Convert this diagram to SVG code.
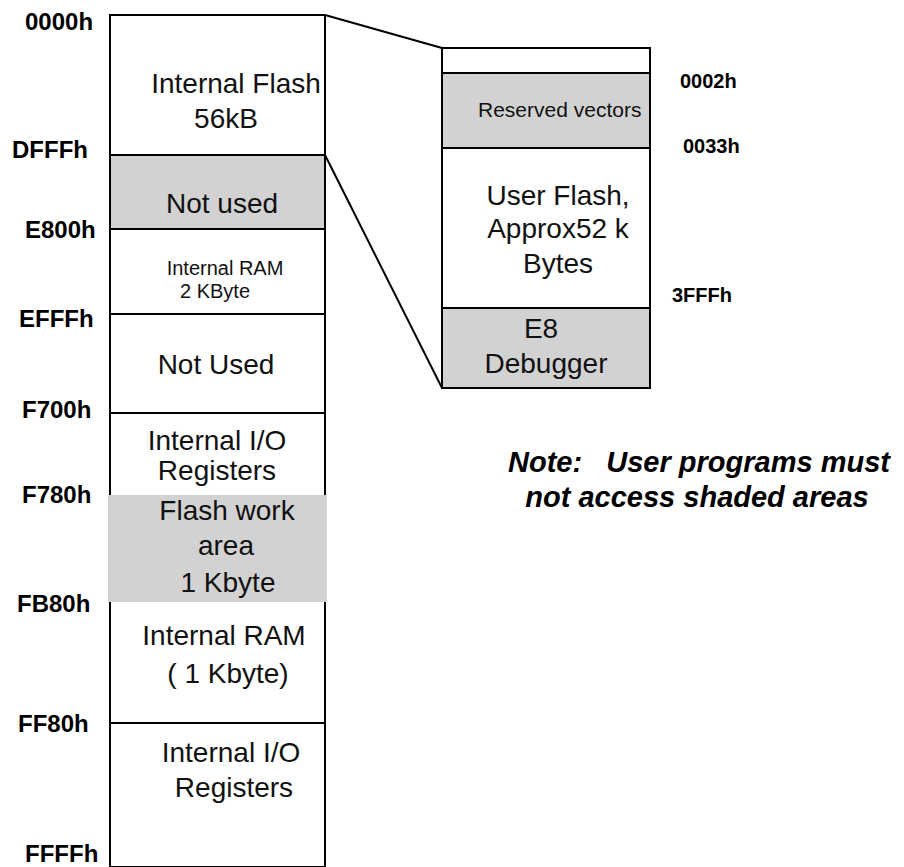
<svg xmlns="http://www.w3.org/2000/svg" width="904" height="867" viewBox="0 0 904 867">
<style>
.box{fill:#fff;stroke:#000;stroke-width:2}
.sh{fill:#d2d2d2;stroke:#000;stroke-width:2}
.div{stroke:#000;stroke-width:2}
.t{font-family:"Liberation Sans",Arial,sans-serif;font-size:28px;fill:#111;text-anchor:middle}
.s{font-family:"Liberation Sans",Arial,sans-serif;font-size:20px;fill:#111;text-anchor:middle}
.a{font-family:"Liberation Sans",Arial,sans-serif;font-size:24px;font-weight:bold;fill:#000}
.ar{font-family:"Liberation Sans",Arial,sans-serif;font-size:20px;font-weight:bold;fill:#000}
.n{font-family:"Liberation Sans",Arial,sans-serif;font-size:29px;font-weight:bold;font-style:italic;fill:#000;text-anchor:middle}
</style>
<rect width="904" height="867" fill="#fff"/>
<g id="left-map">
  <rect class="box" x="110" y="15" width="215" height="852"/>
  <g id="internal-flash">
    <text class="t" x="236" y="93">Internal Flash</text>
    <text class="t" x="226" y="128">56kB</text>
  </g>
  <g id="not-used-1">
    <rect class="sh" x="110" y="155" width="215" height="74"/>
    <text class="t" x="222" y="213">Not used</text>
  </g>
  <g id="internal-ram-2k">
    <line class="div" x1="110" y1="229" x2="325" y2="229"/>
    <text class="s" x="225" y="275">Internal RAM</text>
    <text class="s" x="215" y="298">2 KByte</text>
  </g>
  <g id="not-used-2">
    <line class="div" x1="110" y1="314" x2="325" y2="314"/>
    <text class="t" x="216" y="374">Not Used</text>
  </g>
  <g id="internal-io-1">
    <line class="div" x1="110" y1="413" x2="325" y2="413"/>
    <text class="t" x="217" y="450">Internal I/O</text>
    <text class="t" x="217" y="480">Registers</text>
  </g>
  <g id="flash-work">
    <rect x="108" y="495" width="219" height="107" fill="#d2d2d2"/>
    <text class="t" x="227" y="520">Flash work</text>
    <text class="t" x="226" y="555">area</text>
    <text class="t" x="228" y="592">1 Kbyte</text>
  </g>
  <g id="internal-ram-1k">
    <text class="t" x="224" y="645">Internal RAM</text>
    <text class="t" x="228" y="683">( 1 Kbyte)</text>
  </g>
  <g id="internal-io-2">
    <line class="div" x1="110" y1="723" x2="325" y2="723"/>
    <text class="t" x="231" y="762">Internal I/O</text>
    <text class="t" x="234" y="797">Registers</text>
  </g>
</g>
<g id="addresses-left">
  <text class="a" x="25" y="30">0000h</text>
  <text class="a" x="12" y="158">DFFFh</text>
  <text class="a" x="25" y="238">E800h</text>
  <text class="a" x="19" y="327">EFFFh</text>
  <text class="a" x="22" y="418">F700h</text>
  <text class="a" x="22" y="503">F780h</text>
  <text class="a" x="17" y="612">FB80h</text>
  <text class="a" x="18" y="732">FF80h</text>
  <text class="a" x="25" y="862">FFFFh</text>
</g>
<g id="right-map">
  <rect class="box" x="442" y="48" width="208" height="340"/>
  <g id="reserved-vectors">
    <rect class="sh" x="442" y="73" width="208" height="75"/>
    <text class="s" x="478" y="117" style="text-anchor:start;font-size:21px">Reserved vectors</text>
  </g>
  <g id="user-flash">
    <text class="t" x="558" y="205">User Flash,</text>
    <text class="t" x="558" y="238">Approx52 k</text>
    <text class="t" x="558" y="273">Bytes</text>
  </g>
  <g id="e8-debugger">
    <rect class="sh" x="442" y="308" width="208" height="80"/>
    <text class="t" x="541" y="338">E8</text>
    <text class="t" x="546" y="373">Debugger</text>
  </g>
</g>
<g id="addresses-right">
  <text class="ar" x="680" y="88">0002h</text>
  <text class="ar" x="683" y="153">0033h</text>
  <text class="ar" x="672" y="302">3FFFh</text>
</g>
<g id="connectors">
  <line class="div" x1="325" y1="15" x2="442" y2="48"/>
  <line class="div" x1="325" y1="155" x2="442" y2="388"/>
</g>
<g id="note">
  <text class="n" x="699" y="472" xml:space="preserve">Note:   User programs must</text>
  <text class="n" x="697" y="507">not access shaded areas</text>
</g>
</svg>
